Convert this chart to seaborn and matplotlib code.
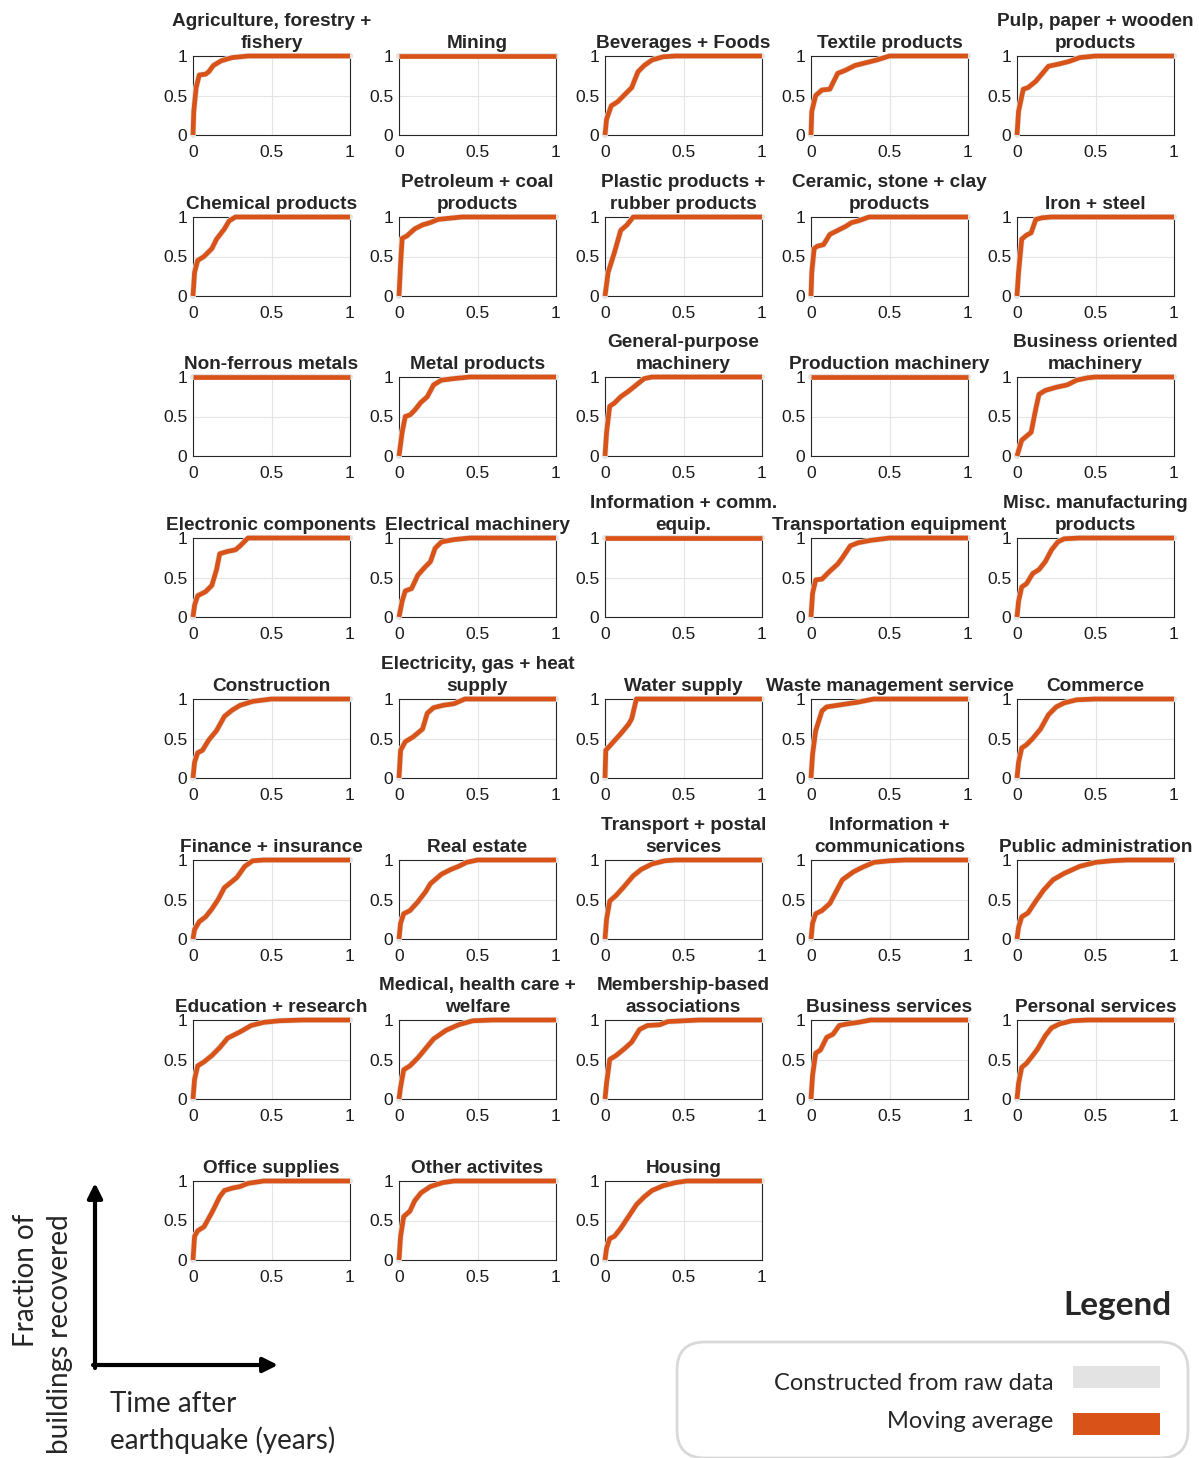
import matplotlib
matplotlib.use("Agg")
import matplotlib.pyplot as plt
import pandas as pd
import seaborn as sns
from matplotlib.patches import FancyBboxPatch, Rectangle

# ---------------- data (time after earthquake in years, fraction recovered) ----------------
titles = [
    "Agriculture, forestry +\nfishery", "Mining", "Beverages + Foods", "Textile products",
    "Pulp, paper + wooden\nproducts",
    "Chemical products", "Petroleum + coal\nproducts", "Plastic products +\nrubber products",
    "Ceramic, stone + clay\nproducts", "Iron + steel",
    "Non-ferrous metals", "Metal products", "General-purpose\nmachinery", "Production machinery",
    "Business oriented\nmachinery",
    "Electronic components", "Electrical machinery", "Information + comm.\nequip.",
    "Transportation equipment", "Misc. manufacturing\nproducts",
    "Construction", "Electricity, gas + heat\nsupply", "Water supply", "Waste management service",
    "Commerce",
    "Finance + insurance", "Real estate", "Transport + postal\nservices", "Information +\ncommunications",
    "Public administration",
    "Education + research", "Medical, health care +\nwelfare", "Membership-based\nassociations",
    "Business services", "Personal services",
    "Office supplies", "Other activites", "Housing",
]

agri_t = [0, 0.005, 0.02, 0.04, 0.08, 0.1, 0.13, 0.18, 0.25, 0.35, 1]
agri_f = [0, 0.3, 0.6, 0.76, 0.77, 0.8, 0.88, 0.94, 0.98, 1, 1]
mining_t = [0, 1]
mining_f = [1, 1]
bev_t = [0, 0.01, 0.04, 0.08, 0.12, 0.17, 0.21, 0.25, 0.3, 0.37, 0.45, 1]
bev_f = [0, 0.2, 0.37, 0.42, 0.5, 0.6, 0.8, 0.88, 0.95, 0.99, 1, 1]
textile_t = [0, 0.005, 0.03, 0.07, 0.12, 0.17, 0.22, 0.28, 0.36, 0.42, 0.5, 1]
textile_f = [0, 0.3, 0.5, 0.57, 0.58, 0.78, 0.82, 0.88, 0.92, 0.95, 1, 1]
pulp_t = [0, 0.01, 0.04, 0.07, 0.12, 0.2, 0.27, 0.33, 0.4, 0.5, 1]
pulp_f = [0, 0.3, 0.58, 0.6, 0.68, 0.87, 0.9, 0.93, 0.98, 1, 1]

chem_t = [0, 0.01, 0.03, 0.07, 0.12, 0.15, 0.2, 0.23, 0.27, 1]
chem_f = [0, 0.3, 0.45, 0.5, 0.6, 0.72, 0.85, 0.95, 1, 1]
petro_t = [0, 0.01, 0.02, 0.05, 0.1, 0.15, 0.2, 0.25, 0.35, 0.4, 1]
petro_f = [0, 0.4, 0.73, 0.76, 0.85, 0.9, 0.93, 0.97, 0.99, 1, 1]
plastic_t = [0, 0.02, 0.06, 0.1, 0.14, 0.18, 1]
plastic_f = [0, 0.3, 0.55, 0.83, 0.9, 1, 1]
ceramic_t = [0, 0.005, 0.02, 0.04, 0.08, 0.12, 0.16, 0.22, 0.26, 0.3, 0.37, 1]
ceramic_f = [0, 0.3, 0.6, 0.63, 0.65, 0.78, 0.82, 0.88, 0.93, 0.95, 1, 1]
iron_t = [0, 0.01, 0.03, 0.06, 0.09, 0.12, 0.16, 0.22, 1]
iron_f = [0, 0.3, 0.72, 0.77, 0.8, 0.97, 0.99, 1, 1]

nonfer_t = [0, 1]
nonfer_f = [1, 1]
metal_t = [0, 0.02, 0.04, 0.07, 0.1, 0.14, 0.18, 0.22, 0.27, 0.35, 0.45, 1]
metal_f = [0, 0.3, 0.5, 0.52, 0.58, 0.68, 0.75, 0.9, 0.96, 0.98, 1, 1]
genmach_t = [0, 0.01, 0.03, 0.06, 0.1, 0.15, 0.2, 0.25, 0.3, 1]
genmach_f = [0, 0.3, 0.63, 0.67, 0.75, 0.82, 0.9, 0.98, 1, 1]
prodmach_t = [0, 1]
prodmach_f = [1, 1]
busmach_t = [0, 0.03, 0.06, 0.09, 0.12, 0.14, 0.18, 0.25, 0.32, 0.38, 0.45, 0.5, 1]
busmach_f = [0, 0.2, 0.25, 0.3, 0.6, 0.78, 0.83, 0.87, 0.9, 0.96, 0.99, 1, 1]

elcomp_t = [0, 0.01, 0.03, 0.08, 0.12, 0.15, 0.17, 0.22, 0.27, 0.3, 0.35, 1]
elcomp_f = [0, 0.15, 0.27, 0.32, 0.4, 0.6, 0.8, 0.83, 0.85, 0.9, 1, 1]
elmach_t = [0, 0.02, 0.04, 0.08, 0.12, 0.16, 0.2, 0.23, 0.27, 0.35, 0.45, 1]
elmach_f = [0, 0.2, 0.33, 0.36, 0.53, 0.62, 0.7, 0.87, 0.95, 0.98, 1, 1]
infoeq_t = [0, 1]
infoeq_f = [1, 1]
transeq_t = [0, 0.01, 0.03, 0.07, 0.12, 0.17, 0.2, 0.25, 0.3, 0.38, 0.5, 1]
transeq_f = [0, 0.3, 0.47, 0.48, 0.58, 0.67, 0.75, 0.9, 0.94, 0.97, 1, 1]
misc_t = [0, 0.01, 0.03, 0.06, 0.1, 0.14, 0.18, 0.22, 0.26, 0.3, 0.4, 1]
misc_f = [0, 0.2, 0.38, 0.42, 0.55, 0.6, 0.7, 0.85, 0.95, 0.99, 1, 1]

constr_t = [0, 0.01, 0.03, 0.06, 0.1, 0.15, 0.2, 0.25, 0.3, 0.38, 0.5, 1]
constr_f = [0, 0.2, 0.32, 0.35, 0.48, 0.6, 0.78, 0.86, 0.92, 0.97, 1, 1]
elec_t = [0, 0.01, 0.04, 0.09, 0.15, 0.18, 0.22, 0.28, 0.35, 0.42, 1]
elec_f = [0, 0.35, 0.46, 0.52, 0.62, 0.82, 0.89, 0.92, 0.94, 1, 1]
water_t = [0, 0.005, 0.05, 0.1, 0.15, 0.17, 0.2, 1]
water_f = [0, 0.35, 0.45, 0.56, 0.68, 0.75, 1, 1]
waste_t = [0, 0.01, 0.03, 0.07, 0.1, 0.2, 0.3, 0.4, 1]
waste_f = [0, 0.3, 0.6, 0.85, 0.9, 0.93, 0.96, 1, 1]
commerce_t = [0, 0.01, 0.03, 0.06, 0.1, 0.15, 0.2, 0.25, 0.3, 0.38, 0.5, 1]
commerce_f = [0, 0.2, 0.38, 0.42, 0.5, 0.62, 0.8, 0.9, 0.95, 0.99, 1, 1]

finance_t = [0, 0.01, 0.04, 0.08, 0.12, 0.16, 0.2, 0.25, 0.28, 0.33, 0.38, 0.45, 1]
finance_f = [0, 0.12, 0.22, 0.28, 0.38, 0.5, 0.65, 0.73, 0.78, 0.92, 0.99, 1, 1]
realest_t = [0, 0.01, 0.03, 0.07, 0.12, 0.17, 0.2, 0.27, 0.33, 0.38, 0.43, 0.5, 1]
realest_f = [0, 0.2, 0.32, 0.36, 0.47, 0.6, 0.7, 0.82, 0.88, 0.92, 0.97, 1, 1]
postal_t = [0, 0.01, 0.03, 0.07, 0.12, 0.18, 0.23, 0.3, 0.38, 0.45, 1]
postal_f = [0, 0.25, 0.48, 0.55, 0.66, 0.8, 0.88, 0.95, 0.99, 1, 1]
infocom_t = [0, 0.01, 0.03, 0.07, 0.12, 0.16, 0.2, 0.27, 0.33, 0.4, 0.5, 0.6, 1]
infocom_f = [0, 0.2, 0.32, 0.36, 0.45, 0.6, 0.75, 0.85, 0.91, 0.97, 0.99, 1, 1]
public_t = [0, 0.01, 0.03, 0.07, 0.12, 0.17, 0.23, 0.3, 0.4, 0.5, 0.6, 0.7, 1]
public_f = [0, 0.15, 0.28, 0.33, 0.48, 0.62, 0.75, 0.83, 0.92, 0.97, 0.99, 1, 1]

educ_t = [0, 0.01, 0.03, 0.07, 0.12, 0.17, 0.22, 0.3, 0.37, 0.45, 0.55, 0.7, 1]
educ_f = [0, 0.25, 0.42, 0.47, 0.55, 0.65, 0.77, 0.85, 0.93, 0.97, 0.99, 1, 1]
medical_t = [0, 0.01, 0.03, 0.07, 0.12, 0.17, 0.22, 0.3, 0.38, 0.47, 0.6, 1]
medical_f = [0, 0.15, 0.37, 0.42, 0.52, 0.64, 0.76, 0.87, 0.94, 0.99, 1, 1]
member_t = [0, 0.01, 0.03, 0.07, 0.12, 0.17, 0.22, 0.27, 0.35, 0.4, 0.5, 0.6, 1]
member_f = [0, 0.2, 0.5, 0.55, 0.63, 0.72, 0.88, 0.93, 0.94, 0.98, 0.99, 1, 1]
bizserv_t = [0, 0.01, 0.03, 0.06, 0.1, 0.14, 0.18, 0.23, 0.3, 0.38, 1]
bizserv_f = [0, 0.3, 0.58, 0.62, 0.78, 0.82, 0.93, 0.95, 0.97, 1, 1]
personal_t = [0, 0.01, 0.03, 0.06, 0.1, 0.13, 0.18, 0.22, 0.27, 0.35, 0.45, 1]
personal_f = [0, 0.2, 0.4, 0.45, 0.55, 0.63, 0.8, 0.9, 0.95, 0.99, 1, 1]

office_t = [0, 0.01, 0.03, 0.07, 0.12, 0.17, 0.2, 0.25, 0.3, 0.35, 0.45, 1]
office_f = [0, 0.3, 0.37, 0.42, 0.6, 0.8, 0.88, 0.91, 0.93, 0.97, 1, 1]
other_t = [0, 0.01, 0.03, 0.07, 0.1, 0.14, 0.2, 0.28, 0.35, 1]
other_f = [0, 0.3, 0.55, 0.62, 0.75, 0.85, 0.93, 0.98, 1, 1]
housing_t = [0, 0.01, 0.03, 0.06, 0.1, 0.15, 0.2, 0.25, 0.3, 0.37, 0.45, 0.52, 1]
housing_f = [0, 0.15, 0.27, 0.3, 0.4, 0.55, 0.7, 0.8, 0.88, 0.94, 0.98, 1, 1]

curves = [
    (agri_t, agri_f), (mining_t, mining_f), (bev_t, bev_f), (textile_t, textile_f), (pulp_t, pulp_f),
    (chem_t, chem_f), (petro_t, petro_f), (plastic_t, plastic_f), (ceramic_t, ceramic_f), (iron_t, iron_f),
    (nonfer_t, nonfer_f), (metal_t, metal_f), (genmach_t, genmach_f), (prodmach_t, prodmach_f),
    (busmach_t, busmach_f),
    (elcomp_t, elcomp_f), (elmach_t, elmach_f), (infoeq_t, infoeq_f), (transeq_t, transeq_f), (misc_t, misc_f),
    (constr_t, constr_f), (elec_t, elec_f), (water_t, water_f), (waste_t, waste_f), (commerce_t, commerce_f),
    (finance_t, finance_f), (realest_t, realest_f), (postal_t, postal_f), (infocom_t, infocom_f),
    (public_t, public_f),
    (educ_t, educ_f), (medical_t, medical_f), (member_t, member_f), (bizserv_t, bizserv_f),
    (personal_t, personal_f),
    (office_t, office_f), (other_t, other_f), (housing_t, housing_f),
]

ticks = [0, 0.5, 1]
tick_labels = ["0", "0.5", "1"]
legend_labels = ["Constructed from raw data", "Moving average"]

# ---------------- style ----------------
sns.set_style("white")
plt.rcParams["font.family"] = ["Liberation Sans", "DejaVu Sans"]

ORANGE = "#D95319"
GREY = "#E3E3E3"
SANS2 = ["Lato", "DejaVu Sans"]

W, H = 1199, 1458
fig = plt.figure(figsize=(W / 100, H / 100), dpi=100)

# overlay in pixel coordinates for arrows/legend
ov = fig.add_axes([0, 0, 1, 1])
ov.set_xlim(0, W)
ov.set_ylim(H, 0)
ov.axis("off")
ov.patch.set_alpha(0)

col_left = [193, 399, 605, 811, 1017]
row_top = [56, 217, 377, 538, 699, 860, 1020, 1181]
aw, ah = 157, 79

frames = []
for i, (t, f) in enumerate(curves):
    frames.append(pd.DataFrame({"sector": titles[i], "t": t, "f": f}))
df = pd.concat(frames, ignore_index=True)

for i, name in enumerate(titles):
    r, c = divmod(i, 5)
    x0 = col_left[c]
    y0 = row_top[r]
    ax = fig.add_axes([x0 / W, 1 - (y0 + ah) / H, aw / W, ah / H])
    sub = df[df["sector"] == name]
    sns.lineplot(data=sub, x="t", y="f", ax=ax, color=GREY, linewidth=4.4,
                 estimator=None, sort=False, clip_on=False, zorder=3)
    sns.lineplot(data=sub, x="t", y="f", ax=ax, color=ORANGE, linewidth=3.4,
                 estimator=None, sort=False, clip_on=False, zorder=4,
                 solid_capstyle="butt")
    ax.set_xlim(0, 1)
    ax.set_ylim(0, 1)
    ax.set_xticks(ticks)
    ax.set_yticks(ticks)
    ax.set_xticklabels(tick_labels)
    ax.set_yticklabels(tick_labels)
    ax.set_xlabel("")
    ax.set_ylabel("")
    ax.grid(True, color="#e4e4e4", linewidth=0.8)
    ax.set_axisbelow(True)
    for sp in ax.spines.values():
        sp.set_visible(True)
        sp.set_color("#262626")
        sp.set_linewidth(0.8)
    ax.tick_params(axis="both", direction="in", length=3, width=0.6, labelsize=12.5,
                   colors="#262626", labelcolor="#1a1a1a")
    ax.tick_params(axis="x", pad=7)
    ax.tick_params(axis="y", pad=4)
    ax.set_title(name, fontsize=13.7, fontweight="bold", pad=5.5, linespacing=1.4)

# axis arrows
arrow_kw = dict(arrowstyle="-|>", lw=3, color="black", mutation_scale=22, shrinkA=0, shrinkB=0)
ov.annotate("", xy=(95, 1183), xytext=(95, 1368), arrowprops=arrow_kw)
ov.annotate("", xy=(278, 1365), xytext=(93, 1365), arrowprops=arrow_kw)

ov.text(43, 1214, "Fraction of\nbuildings recovered", rotation=90, ha="center", va="top",
        multialignment="right", fontsize=20, family=SANS2, linespacing=1.4)
ov.text(110, 1391, "Time after\nearthquake (years)", ha="left", va="top",
        fontsize=20, family=SANS2, linespacing=1.4)

# legend
ov.text(1172, 1305, "Legend", ha="right", va="center", fontsize=24, fontweight="bold",
        family=SANS2)
box = FancyBboxPatch((677, 1342), 511, 116, boxstyle="round,pad=0,rounding_size=28",
                     facecolor="white", edgecolor="#d9d9d9", linewidth=2)
ov.add_patch(box)
ov.add_patch(Rectangle((1073, 1366), 87, 22, facecolor=GREY, edgecolor="none"))
ov.add_patch(Rectangle((1073, 1413), 87, 22, facecolor=ORANGE, edgecolor="none"))
ov.text(1053, 1384, legend_labels[0], ha="right", va="center", fontsize=17, family=SANS2)
ov.text(1053, 1421, legend_labels[1], ha="right", va="center", fontsize=17, family=SANS2)

fig.savefig("out.png", dpi=100)
